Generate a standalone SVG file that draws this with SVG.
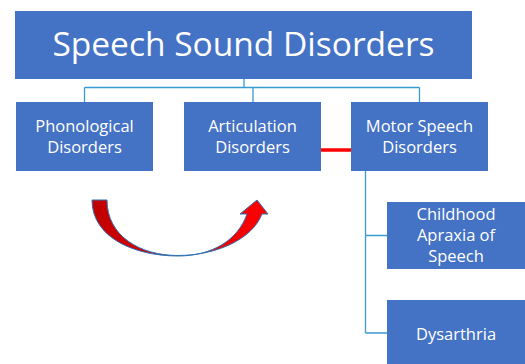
<svg xmlns="http://www.w3.org/2000/svg" width="525" height="364" viewBox="0 0 525 364">
  <defs>
    <linearGradient id="arrowGrad" x1="0" y1="0" x2="1" y2="0">
      <stop offset="0" stop-color="#C00000"/>
      <stop offset="1" stop-color="#FF0000"/>
    </linearGradient>
    <style>
      .box { fill: #4472C4; }
      .lbl { font-family: "Open Sans", "Noto Sans", "Liberation Sans", sans-serif; fill: #FFFFFF; text-anchor: middle; }
      .row { font-size: 16.5px; }
      .title { font-size: 33.5px; }
      .conn { fill: none; stroke: #3A9BD1; stroke-width: 1.3; }
    </style>
  </defs>
  <rect width="525" height="364" fill="#FFFFFF"/>

  <g id="connectors">
    <path class="conn" d="M244,79 V87.5 M84.5,87.5 H419.5 M84.5,87.5 V102 M253,87.5 V102 M419.5,87.5 V102"/>
    <path class="conn" d="M365.5,171 V333 M365.5,235.5 H387 M365.5,333 H387"/>
    <line x1="321" y1="150" x2="351" y2="150" stroke="#FF0000" stroke-width="3.5"/>
  </g>

  <g id="title">
    <rect class="box" x="15" y="11" width="457" height="68"/>
    <text class="lbl title" x="243.5" y="56">Speech Sound Disorders</text>
  </g>

  <g id="phonological">
    <rect class="box" x="16" y="102" width="137" height="69"/>
    <text class="lbl row" x="84.5" y="132">Phonological</text>
    <text class="lbl row" x="84.5" y="153">Disorders</text>
  </g>

  <g id="articulation">
    <rect class="box" x="184" y="102" width="137" height="69"/>
    <text class="lbl row" x="252.5" y="132">Articulation</text>
    <text class="lbl row" x="252.5" y="153">Disorders</text>
  </g>

  <g id="motor">
    <rect class="box" x="351" y="102" width="137" height="69"/>
    <text class="lbl row" x="419.5" y="132">Motor Speech</text>
    <text class="lbl row" x="419.5" y="153">Disorders</text>
  </g>

  <g id="apraxia">
    <rect class="box" x="387" y="202" width="140" height="67"/>
    <text class="lbl row" x="456" y="220">Childhood</text>
    <text class="lbl row" x="456" y="241">Apraxia of</text>
    <text class="lbl row" x="456" y="262">Speech</text>
  </g>

  <g id="dysarthria">
    <rect class="box" x="387" y="300" width="140" height="70"/>
    <text class="lbl row" x="456" y="340">Dysarthria</text>
  </g>

  <g id="curved-arrow">
    <path d="M92,200 C92,238 135,256 178,256 C212,256 238,240 247,214 L240,214 L257,200 L268,214 L262,214 C252,240 215,255.5 178,255.5 C140,255.5 107,236 107,200 Z" fill="url(#arrowGrad)" stroke="#2E75B6" stroke-width="1"/>
  </g>
</svg>
